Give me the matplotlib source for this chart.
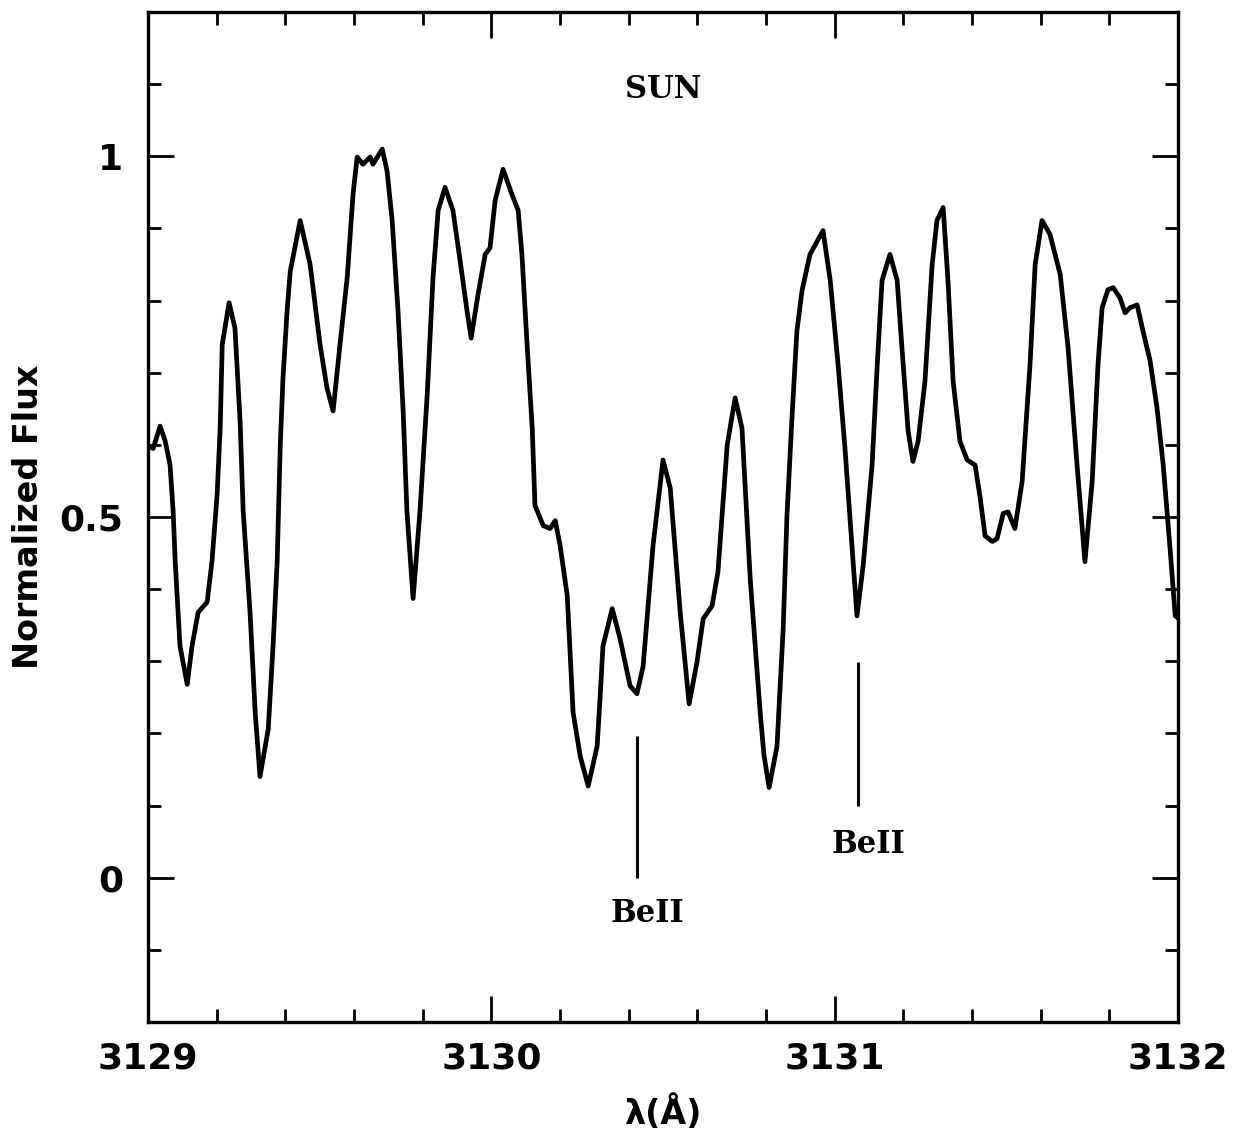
import matplotlib
matplotlib.use('Agg')
from matplotlib import pyplot as plt
from matplotlib.ticker import MultipleLocator

# solar spectrum
wavelength = [3129.000, 3129.015, 3129.035, 3129.050, 3129.064, 3129.073, 3129.079, 3129.093,
              3129.114, 3129.128, 3129.146, 3129.172, 3129.186, 3129.201, 3129.210, 3129.216,
              3129.236, 3129.253, 3129.268, 3129.277, 3129.297, 3129.312, 3129.326, 3129.350,
              3129.364, 3129.376, 3129.385, 3129.393, 3129.405, 3129.414, 3129.443, 3129.472,
              3129.501, 3129.521, 3129.539, 3129.559, 3129.580, 3129.597, 3129.609, 3129.626,
              3129.647, 3129.655, 3129.682, 3129.696, 3129.711, 3129.728, 3129.743, 3129.754,
              3129.772, 3129.792, 3129.813, 3129.830, 3129.845, 3129.865, 3129.888, 3129.909,
              3129.929, 3129.941, 3129.961, 3129.982, 3129.996, 3130.011, 3130.034, 3130.060,
              3130.078, 3130.089, 3130.104, 3130.119, 3130.127, 3130.151, 3130.171, 3130.186,
              3130.200, 3130.221, 3130.238, 3130.259, 3130.282, 3130.308, 3130.317, 3130.325,
              3130.352, 3130.375, 3130.404, 3130.424, 3130.442, 3130.471, 3130.500, 3130.521,
              3130.550, 3130.576, 3130.599, 3130.617, 3130.643, 3130.660, 3130.687, 3130.710,
              3130.730, 3130.754, 3130.783, 3130.794, 3130.809, 3130.832, 3130.850, 3130.861,
              3130.876, 3130.890, 3130.905, 3130.928, 3130.966, 3130.987, 3131.010, 3131.030,
              3131.051, 3131.065, 3131.083, 3131.109, 3131.124, 3131.138, 3131.161, 3131.182,
              3131.196, 3131.214, 3131.228, 3131.243, 3131.263, 3131.284, 3131.298, 3131.316,
              3131.330, 3131.345, 3131.365, 3131.386, 3131.409, 3131.424, 3131.438, 3131.459,
              3131.473, 3131.491, 3131.505, 3131.525, 3131.546, 3131.569, 3131.584, 3131.604,
              3131.627, 3131.657, 3131.680, 3131.706, 3131.729, 3131.750, 3131.767, 3131.779,
              3131.796, 3131.811, 3131.831, 3131.846, 3131.860, 3131.881, 3131.898, 3131.919,
              3131.939, 3131.957, 3131.977, 3131.992, 3132.000]
flux = [0.598, 0.595, 0.626, 0.605, 0.572, 0.508, 0.438, 0.321,
        0.268, 0.321, 0.368, 0.382, 0.438, 0.530, 0.623, 0.739,
        0.797, 0.762, 0.633, 0.508, 0.368, 0.229, 0.140, 0.206,
        0.321, 0.438, 0.599, 0.693, 0.786, 0.840, 0.911, 0.850,
        0.739, 0.679, 0.647, 0.739, 0.832, 0.947, 0.999, 0.989,
        0.999, 0.989, 1.010, 0.980, 0.911, 0.786, 0.647, 0.508,
        0.387, 0.508, 0.669, 0.832, 0.925, 0.957, 0.925, 0.855,
        0.786, 0.748, 0.808, 0.864, 0.873, 0.939, 0.982, 0.947,
        0.925, 0.864, 0.739, 0.623, 0.516, 0.488, 0.484, 0.495,
        0.461, 0.391, 0.229, 0.168, 0.127, 0.182, 0.252, 0.321,
        0.373, 0.331, 0.266, 0.255, 0.293, 0.461, 0.579, 0.540,
        0.368, 0.241, 0.299, 0.359, 0.377, 0.424, 0.600, 0.665,
        0.623, 0.414, 0.229, 0.170, 0.125, 0.182, 0.345, 0.502,
        0.641, 0.758, 0.814, 0.864, 0.897, 0.828, 0.711, 0.595,
        0.456, 0.363, 0.433, 0.572, 0.711, 0.828, 0.864, 0.828,
        0.734, 0.619, 0.577, 0.605, 0.688, 0.850, 0.911, 0.929,
        0.828, 0.688, 0.605, 0.579, 0.572, 0.526, 0.474, 0.466,
        0.470, 0.505, 0.507, 0.484, 0.549, 0.711, 0.850, 0.911,
        0.892, 0.836, 0.734, 0.572, 0.438, 0.549, 0.711, 0.790,
        0.815, 0.818, 0.804, 0.783, 0.790, 0.794, 0.758, 0.716,
        0.651, 0.572, 0.456, 0.363, 0.360]

# Be II line identifications: position, top and bottom of the marker, label position
line_names = ['BeII', 'BeII']
line_x = [3130.424, 3131.068]
line_top = [0.197, 0.299]
line_bottom = [0.0, 0.1]
label_x = [3130.456, 3131.097]
label_y = [-0.049, 0.046]

fig = plt.figure(figsize = (12.34, 11.34), dpi = 100)
ax = fig.add_axes([0.120, 0.0988, 0.8346, 0.8906])
ax.plot(wavelength, flux, c = 'black', lw = 3.4, solid_joinstyle = 'round')
ax.vlines(line_x, line_bottom, line_top, colors = 'black', lw = 2.2)
for name, x, y in zip(line_names, label_x, label_y):
    ax.text(x, y, name, ha = 'center', va = 'center', fontsize = 22, fontweight = 'bold',
            family = 'DejaVu Serif')
ax.text(3130.5, 1.093, 'SUN', ha = 'center', va = 'center', fontsize = 22, fontweight = 'bold',
        family = 'DejaVu Serif')

ax.set_xlim(3129, 3132)
ax.set_ylim(-0.2, 1.2)
ax.xaxis.set_major_locator(MultipleLocator(1))
ax.xaxis.set_minor_locator(MultipleLocator(0.2))
ax.yaxis.set_major_locator(MultipleLocator(0.5))
ax.yaxis.set_minor_locator(MultipleLocator(0.1))
ax.set_xticks([3129, 3130, 3131, 3132], ['3129', '3130', '3131', '3132'])
ax.set_yticks([0, 0.5, 1], ['0', '0.5', '1'])
ax.tick_params(which = 'both', direction = 'in', top = True, right = True, width = 2)
ax.tick_params(which = 'major', length = 19, labelsize = 26)
ax.tick_params(axis = 'x', which = 'major', pad = 14)
ax.tick_params(axis = 'y', which = 'major', pad = 18)
ax.tick_params(which = 'minor', length = 9.5)
for label in ax.get_xticklabels() + ax.get_yticklabels():
    label.set_fontweight('bold')
for spine in ax.spines.values():
    spine.set_linewidth(2.4)
ax.set_xlabel('λ(Å)', fontsize = 24, fontweight = 'bold', labelpad = 14)
ax.set_ylabel('Normalized Flux', fontsize = 24, fontweight = 'bold', labelpad = 10)

fig.savefig('out.png', dpi = 100)
